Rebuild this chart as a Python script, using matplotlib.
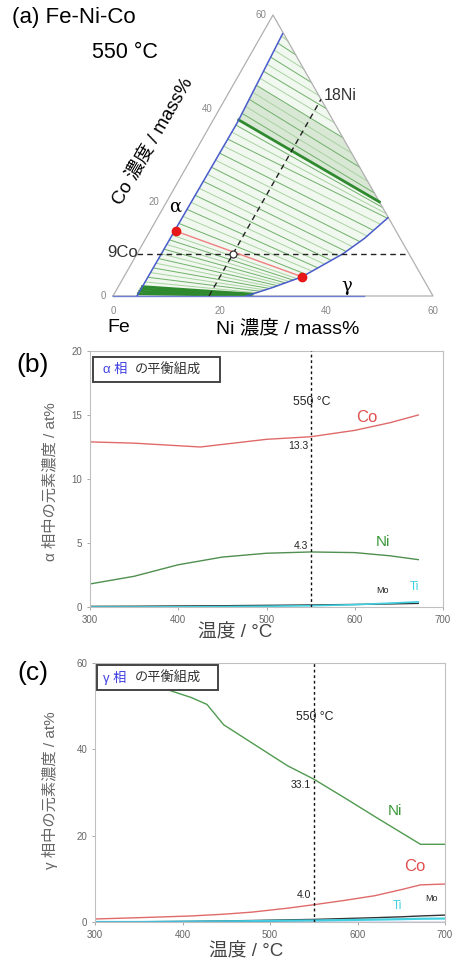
import matplotlib
matplotlib.use("Agg")
import matplotlib.pyplot as plt
from matplotlib.patches import Rectangle, Polygon
import numpy as np

plt.rcParams['font.family'] = ['Liberation Sans', 'Noto Sans CJK JP', 'DejaVu Sans']

# ---- (a) ternary section, mass% ----
alpha_ni = [4.5, 4.6, 4.8, 3.8]
alpha_co = [0.0, 15.0, 37.0, 56.0]
gamma_ni = [25.0, 29.0, 33.4, 38.6, 41.0, 43.2]
gamma_co = [0.0, 1.8, 4.1, 9.0, 12.3, 16.7]
# tie lines: Co at alpha end -> Co at the other end (gamma boundary or Fe=0 edge)
tie_co_a = [0.5, 1.0, 1.5, 2.0, 3.0, 4.0, 5.0, 6.0, 7.0, 8.0, 9.0, 10.0, 11.0,
            12.0, 13.0, 15.5, 17.0, 18.5, 20.0, 21.5, 23.0, 24.5, 26.0, 27.5,
            29.0, 30.5, 32.0, 33.5, 35.0, 36.5, 37.6, 39.0, 40.5, 42.0, 43.5,
            45.0, 46.5, 48.0, 49.5, 51.0, 52.5, 54.0, 55.5]
tie_co_b = [0.1, 0.2, 0.3, 0.4, 0.7, 1.0, 1.3, 1.6, 1.9, 2.2, 2.5, 2.8, 3.1,
            3.4, 3.7, 4.6, 5.3, 6.0, 6.8, 7.6, 8.5, 9.5, 10.5, 11.6,
            12.8, 14.0, 15.3, 16.6, 17.6, 18.9, 20.1, 22.0, 24.5, 27.5, 30.5,
            33.8, 37.0, 40.0, 42.8, 45.6, 48.5, 51.5, 54.5]
thick_ties = [0.5, 1.0, 1.5, 2.0, 37.6]
red_tie = [(5.0, 13.8), (33.4, 4.1)]
alloy = (18, 9)

# ---- (b) alpha phase, at% ----
t_a = [300, 350, 400, 425, 450, 500, 550, 600, 640, 672]
co_a = [12.9, 12.8, 12.6, 12.5, 12.7, 13.1, 13.3, 13.8, 14.4, 15.0]
ni_a = [1.8, 2.4, 3.3, 3.6, 3.9, 4.2, 4.3, 4.25, 4.0, 3.7]
mo_a = [0.05, 0.06, 0.08, 0.09, 0.1, 0.13, 0.16, 0.2, 0.24, 0.28]
ti_a = [0.0, 0.0, 0.01, 0.02, 0.03, 0.06, 0.1, 0.18, 0.3, 0.4]

# ---- (c) gamma phase, at% ----
t_g = [300, 350, 380, 410, 428, 447, 480, 520, 550, 585, 620, 650, 672, 700]
ni_g = [59.5, 56.5, 54.0, 52.0, 50.4, 45.7, 41.4, 36.2, 33.1, 28.8, 24.4, 20.7, 18.0, 18.0]
co_g = [0.7, 1.0, 1.2, 1.4, 1.6, 1.8, 2.3, 3.2, 4.0, 5.0, 6.1, 7.5, 8.6, 8.8]
mo_g = [0.0, 0.05, 0.1, 0.15, 0.2, 0.25, 0.35, 0.5, 0.6, 0.8, 1.0, 1.2, 1.4, 1.6]
ti_g = [0.0, 0.0, 0.05, 0.1, 0.12, 0.15, 0.2, 0.3, 0.35, 0.45, 0.55, 0.65, 0.75, 0.8]

W, H = 459, 963
fig = plt.figure(figsize=(W / 100, H / 100), dpi=100)
fig.patch.set_facecolor('white')


def px(x, y):
    return x / W, 1 - y / H


def tern(ni, co):
    ni = np.asarray(ni, dtype=float)
    co = np.asarray(co, dtype=float)
    return ni + co / 2, co


# ================= (a) =================
ta = fig.add_axes([113 / W, 1 - 296 / H, 320 / W, 281 / H])
ta.set_xlim(0, 60)
ta.set_ylim(0, 60)
ta.axis('off')


def end_point(co_end):
    if co_end <= gamma_co[-1]:
        return np.interp(co_end, gamma_co, gamma_ni), co_end
    return 60 - co_end, co_end


def alpha_point(co):
    return np.interp(co, alpha_co, alpha_ni), co


# two-phase region
poly_ni = list(alpha_ni) + [60 - alpha_co[-1]] + gamma_ni[::-1]
poly_co = list(alpha_co) + [alpha_co[-1]] + gamma_co[::-1]
px_, py_ = tern(poly_ni, poly_co)
ta.add_patch(Polygon(np.c_[px_, py_], closed=True, fc='#f1f8ef', ec='none', zorder=0))

# shaded band above thick tie line
a1, b1 = alpha_point(37.6), end_point(20.1)
a2, b2 = alpha_point(45.0), end_point(33.8)
bx, by = tern([a1[0], b1[0], b2[0], a2[0]], [a1[1], b1[1], b2[1], a2[1]])
ta.add_patch(Polygon(np.c_[bx, by], closed=True, fc='#d9e7d5', ec='none', zorder=0))

for i, (ca, cb) in enumerate(zip(tie_co_a, tie_co_b)):
    a = alpha_point(ca)
    b = end_point(cb)
    x, y = tern([a[0], b[0]], [a[1], b[1]])
    if ca in thick_ties:
        ta.plot(x, y, color='#2f8a2f', lw=2.0, zorder=2)
    else:
        ta.plot(x, y, color='#6fb06a' if i % 2 else '#a9d3a2', lw=0.7, zorder=1)

# triangle edges
ex, ey = tern([0, 60, 0, 0], [0, 0, 60, 0])
ta.plot(ex, ey, color='#b0b0b0', lw=0.9, zorder=1, clip_on=False)
bx, by = tern([0, 47], [0, 0])
ta.plot(bx, by, color='#7080d0', lw=1.0, zorder=2, clip_on=False)

# phase boundaries
x, y = tern(alpha_ni, alpha_co)
ta.plot(x, y, color='#4a5ccc', lw=1.1, zorder=3)
x, y = tern(gamma_ni, gamma_co)
ta.plot(x, y, color='#4a5ccc', lw=1.1, zorder=3)

# alloy guides
x, y = tern([0, 60 - alloy[1]], [alloy[1], alloy[1]])
ta.plot(x, y, color='#222', lw=1.0, ls=(0, (4, 3)), zorder=4, clip_on=False)
x, y = tern([alloy[0], alloy[0]], [0, 60 - alloy[0]])
ta.plot(x, y, color='#222', lw=1.0, ls=(0, (4, 3)), zorder=4, clip_on=False)

x, y = tern([p[0] for p in red_tie], [p[1] for p in red_tie])
ta.plot(x, y, color='#f08080', lw=1.0, zorder=5)
ta.plot(x, y, 'o', color='#e81818', ms=6, zorder=6, clip_on=False)
x, y = tern([alloy[0]], [alloy[1]])
ta.plot(x, y, 'o', mfc='white', mec='#333', ms=5, mew=0.9, zorder=6)

# tick labels
for v in [0, 20, 40, 60]:
    x, y = tern(v, 0)
    ta.text(x, y - 2.2, str(v), ha='center', va='top', fontsize=7, color='#888')
for v in [0, 20, 40, 60]:
    x, y = tern(0, v)
    ta.text(x - 1.3, y, str(v), ha='right', va='center', fontsize=7, color='#888')

fig.text(*px(12, 17), '(a) Fe-Ni-Co', fontsize=16, ha='left', va='center')
fig.text(*px(92, 52), '550 \u00b0C', fontsize=15.5, ha='left', va='center')
fig.text(*px(153, 142), 'Co 濃度 / mass%', fontsize=13.5, rotation=60,
         ha='center', va='center', rotation_mode='anchor')
fig.text(*px(119, 328), 'Fe', fontsize=14, ha='center', va='center')
fig.text(*px(288, 328), 'Ni 濃度 / mass%', fontsize=14, ha='center', va='center')
fig.text(*px(175, 207), '\u03b1', fontsize=13, ha='center', va='center', family='DejaVu Serif')
fig.text(*px(347, 286), '\u03b3', fontsize=13, ha='center', va='center', family='DejaVu Serif')
fig.text(*px(138, 252), '9Co', fontsize=12, ha='right', va='center', color='#333')
fig.text(*px(324, 95), '18Ni', fontsize=11.5, ha='left', va='center', color='#333')


# ================= (b), (c) =================
def style(ax, yticks):
    ax.set_xlim(300, 700)
    ax.set_xticks([300, 400, 500, 600, 700])
    ax.set_yticks(yticks)
    ax.tick_params(labelsize=7, labelcolor='#666', length=2, width=0.6, color='#999')
    for s in ax.spines.values():
        s.set_color('#c0c0c0')
        s.set_linewidth(0.8)
    ax.axvline(550, color='#111', lw=1.0, ls=(0, (2, 2)), zorder=4)


def legend_box(ax, x0, x1, y0, y1, greek, tx1, tx2, ty):
    ax.add_patch(Rectangle((x0, y0), x1 - x0, y1 - y0, transform=ax.transAxes,
                           fc='white', ec='#444', lw=1.4, zorder=6, clip_on=False))
    ax.text(tx1, ty, greek + ' 相', transform=ax.transAxes, color='#4040e0',
            fontsize=9.5, va='center', zorder=7)
    ax.text(tx2, ty, 'の平衡組成', transform=ax.transAxes, color='#333',
            fontsize=9.5, va='center', zorder=7)


axb = fig.add_axes([90 / W, 1 - 607 / H, 353 / W, 256 / H])
style(axb, [0, 5, 10, 15, 20])
axb.set_ylim(0, 20)
axb.plot(t_a, co_a, color='#e06a6a', lw=1.0)
axb.plot(t_a, ni_a, color='#4f8f4f', lw=1.0)
axb.plot(t_a, mo_a, color='#333', lw=1.0)
axb.plot(t_a, ti_a, color='#40d0e0', lw=1.2)
axb.text(551, 16.0, '550 \u00b0C', fontsize=8.8, ha='center', va='center', color='#222')
axb.text(547, 12.6, '13.3', fontsize=7.5, ha='right', va='center', color='#222')
axb.text(547, 4.8, '4.3', fontsize=7.5, ha='right', va='center', color='#222')
axb.text(614, 14.8, 'Co', fontsize=12, ha='center', va='center', color='#e05050')
axb.text(632, 5.1, 'Ni', fontsize=11, ha='center', va='center', color='#3a9a3a')
axb.text(632, 1.3, 'Mo', fontsize=6.5, ha='center', va='center', color='#222')
axb.text(668, 1.6, 'Ti', fontsize=8.5, ha='center', va='center', color='#40d0e0')
legend_box(axb, 0.0085, 0.368, 0.879, 0.977, '\u03b1', 0.037, 0.127, 0.928)

axc = fig.add_axes([95 / W, 1 - 922 / H, 350 / W, 259 / H])
style(axc, [0, 20, 40, 60])
axc.set_ylim(0, 60)
axc.plot(t_g, ni_g, color='#4f9a4f', lw=1.0)
axc.plot(t_g, co_g, color='#e06a6a', lw=1.0)
axc.plot(t_g, mo_g, color='#333', lw=1.0)
axc.plot(t_g, ti_g, color='#40d0e0', lw=1.6)
axc.axhline(0.05, color='#6060c0', lw=1.0)
axc.text(551, 47.6, '550 \u00b0C', fontsize=8.8, ha='center', va='center', color='#222')
axc.text(547, 31.7, '33.1', fontsize=7.5, ha='right', va='center', color='#222')
axc.text(547, 6.2, '4.0', fontsize=7.5, ha='right', va='center', color='#222')
axc.text(643, 25.6, 'Ni', fontsize=11, ha='center', va='center', color='#3a9a3a')
axc.text(665, 12.8, 'Co', fontsize=12, ha='center', va='center', color='#e05050')
axc.text(684, 5.5, 'Mo', fontsize=6.5, ha='center', va='center', color='#222')
axc.text(646, 3.7, 'Ti', fontsize=8.5, ha='center', va='center', color='#40d0e0')
legend_box(axc, 0.0056, 0.352, 0.895, 0.992, '\u03b3', 0.022, 0.114, 0.943)

fig.text(*px(33, 365), '(b)', fontsize=19, ha='center', va='center')
fig.text(*px(33, 673), '(c)', fontsize=19, ha='center', va='center')
fig.text(*px(50, 482), '\u03b1 相中の元素濃度 / at%', fontsize=11, rotation=90,
         ha='center', va='center', color='#666')
fig.text(*px(50, 790), '\u03b3 相中の元素濃度 / at%', fontsize=11, rotation=90,
         ha='center', va='center', color='#666')
fig.text(*px(235, 633), '温度 / \u00b0C', fontsize=13.5, ha='center', va='center', color='#444')
fig.text(*px(246, 952), '温度 / \u00b0C', fontsize=13.5, ha='center', va='center', color='#444')

fig.savefig('out.png', dpi=100)
